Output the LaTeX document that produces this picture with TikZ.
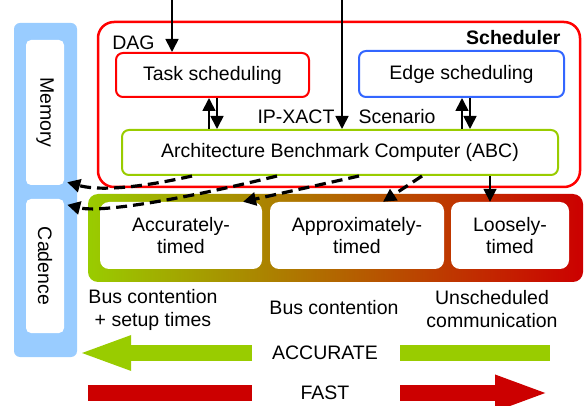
\documentclass[tikz,border=0pt]{standalone}
\usepackage{fontspec}
\setmainfont{Liberation Sans}
\usepackage{graphicx}
\usetikzlibrary{calc}
\usetikzlibrary{arrows.meta}
\tikzset{>={Triangle[length=13pt,width=13pt]}}
\definecolor{memblue}{RGB}{153,204,255}
\definecolor{schedred}{RGB}{255,0,0}
\definecolor{edgeblue}{RGB}{51,102,255}
\definecolor{abcgreen}{RGB}{153,204,0}
\definecolor{midgold}{RGB}{180,150,0}
\definecolor{fastred}{RGB}{204,0,0}
\tikzset{
  box/.style={draw,fill=white,line width=2pt,rounded corners=7pt,inner sep=0pt},
  store/.style={fill=white,rounded corners=5pt,minimum width=38pt,inner sep=0pt},
  level/.style={fill=white,rounded corners=9pt,minimum height=67pt,align=center,inner sep=0pt},
  ctrl/.style={->,line width=1.7pt},
  transfer/.style={->,line width=3.2pt,dash pattern=on 11pt off 6pt},
  scalebar/.style={line width=16pt}
}

\begin{document}
\begin{tikzpicture}[x=1pt,y=-1pt,font=\fontsize{19.5}{22.5}\selectfont]
  \useasboundingbox (0,0) rectangle (584,406);

  % memory / cadence column
  \node[fill=memblue,rounded corners=6pt,minimum width=63pt,minimum height=334pt] (column) at (45.5,190) {};
  \node[store,minimum height=145pt] (memory) at (45,112.5) {\rotatebox{-90}{Memory}};
  \node[store,minimum height=134pt] (cadence) at (45,266) {\rotatebox{-90}{Cadence}};

  % scheduler
  \node[draw=schedred,line width=2.5pt,rounded corners=16pt,minimum width=482pt,minimum height=165pt] (scheduler) at (339,104.5) {};
  \node[anchor=east] (schedname) at (564,38) {\textbf{Scheduler}};
  \node (dag) at (133.5,43) {DAG};
  \node[box,draw=schedred,minimum width=193pt,minimum height=44pt] (task) at (212.5,75) {Task scheduling};
  \node[box,draw=edgeblue,minimum width=205pt,minimum height=46pt] (edge) at (461.5,74) {Edge scheduling};
  \node[box,draw=abcgreen,minimum width=436pt,minimum height=45pt] (abc) at (340,152.5) {Architecture Benchmark Computer (ABC)};
  \node (ipxact) at (296,117) {IP-XACT};
  \node (scenario) at (397,117) {Scenario};

  % inputs
  \coordinate (daginput) at (172,0);
  \coordinate (ipinput) at (342,0);
  \draw[ctrl] (daginput) -- (daginput |- task.north);
  \draw[ctrl] (ipinput) -- (ipinput |- abc.north);
  \draw[ctrl] ([xshift=-3.5pt]task.south |- abc.north) -- ([xshift=-3.5pt]task.south);
  \draw[ctrl] ([xshift=4.5pt]task.south) -- ([xshift=4.5pt]task.south |- abc.north);
  \draw[ctrl] ([xshift=0.5pt]edge.south |- abc.north) -- ([xshift=0.5pt]edge.south);
  \draw[ctrl] ([xshift=8.5pt]edge.south) -- ([xshift=8.5pt]edge.south |- abc.north);

  % timing models
  \node[left color=abcgreen,middle color=midgold,right color=fastred,rounded corners=10pt,minimum width=495pt,minimum height=88pt] (models) at (335.5,238) {};
  \node[level,minimum width=162pt] (accurately) at (181,235.5) {Accurately-\\timed};
  \node[level,minimum width=174pt] (approx) at (357,235.5) {Approximately-\\timed};
  \node[level,minimum width=118pt] (loosely) at (510,235.5) {Loosely-\\timed};
  \node[align=center] (accnote) at (153,310) {Bus contention\\+ setup times};
  \node (apxnote) at (334,308) {Bus contention};
  \node[align=center] (loosenote) at (492,309) {Unscheduled\\communication};

  \draw[ctrl] ([xshift=-20pt]loosely.north |- abc.south) -- ([xshift=-20pt]loosely.north);
  \draw[transfer] ([xshift=71pt]abc.south west) .. controls (130,190) and (95,190) .. ([shift={(3pt,3pt)}]memory.south east);
  \draw[transfer] ([xshift=156pt]abc.south west) .. controls (180,200) and (100,213) .. ([shift={(3pt,-6pt)}]cadence.north east);
  \draw[transfer] ([xshift=238pt]abc.south west) -- ([xshift=62pt]accurately.north);
  \draw[transfer] ([xshift=301pt]abc.south west) -- ([xshift=26pt]approx.north);

  % accuracy / speed scale
  \node (accurate) at (325,353) {ACCURATE};
  \node (fast) at (325,393) {FAST};
  \draw[scalebar,abcgreen,-{Triangle[length=54pt,width=31pt]}] (252,353) -- (column.east |- accurate);
  \draw[scalebar,abcgreen] (400,353) -- (550,353);
  \draw[scalebar,fastred] (fast -| models.west) -- (252,393);
  \draw[scalebar,fastred,-{Triangle[length=55pt,width=32pt]}] (400,393) -- (550,393);
\end{tikzpicture}
\end{document}
